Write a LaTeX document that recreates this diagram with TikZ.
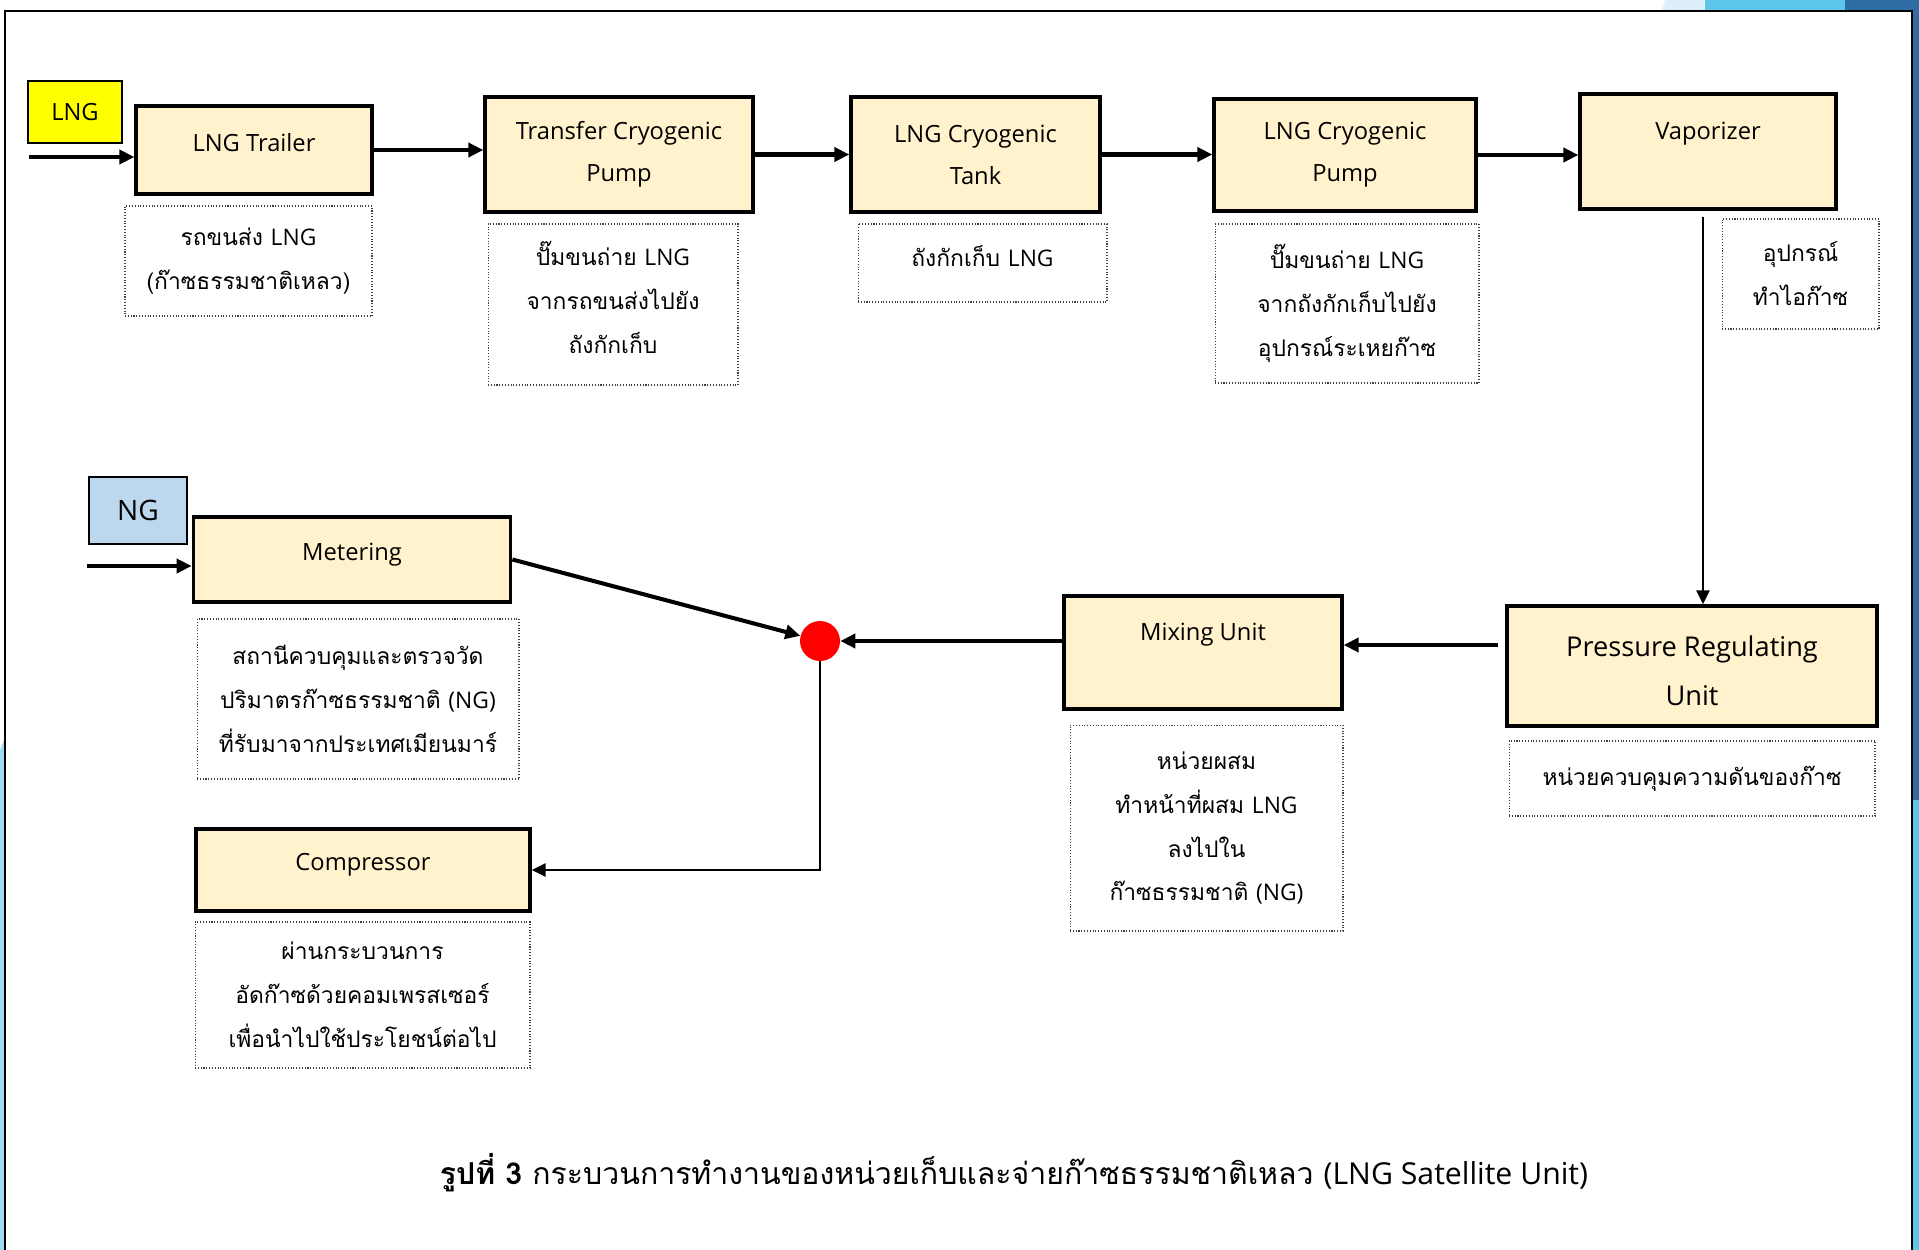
\documentclass[tikz,border=0pt]{standalone}
\usepackage{fontspec}
\setmainfont{Open Sans}
\newfontfamily\thai[Script=Thai]{Loma}
\newcommand\en[1]{{\rmfamily #1}}
\usetikzlibrary{arrows.meta}

\definecolor{unitfill}{HTML}{FFF2CC}
\definecolor{lngyellow}{HTML}{FFFF00}
\definecolor{ngblue}{HTML}{BDD7EE}
\definecolor{decolight}{HTML}{DDF0FA}
\definecolor{decomid}{HTML}{5BC5EA}
\definecolor{decodark}{HTML}{2E6DA4}

\tikzset{
	unit/.style={draw, line width=1.9pt, fill=unitfill, align=center, inner sep=0pt,
		font=\fontsize{13.5}{24}\selectfont},
	lift/.style={text depth=0.32cm},
	note/.style={draw=black!75, densely dotted, line width=0.6pt, align=center, inner sep=0pt,
		font=\thai\fontsize{13}{25}\selectfont},
	notelift/.style={text depth=0.28cm},
	tag/.style={draw, line width=1pt, inner sep=0pt},
	flow/.style={line width=2.3pt, -{Triangle[length=0.3cm,width=0.28cm]}},
	thinflow/.style={line width=1.6pt, -{Triangle[length=0.28cm,width=0.26cm]}}
}

\begin{document}
\begin{tikzpicture}[x=0.02cm,y=-0.02cm]
	\useasboundingbox (0,0) rectangle (1919,1250);

	% slide decoration
	\fill[decolight] (1665,0) -- (1705,0) -- (1705,11) -- (1662,11) -- cycle;
	\fill[decomid] (1705,0) -- (1845,0) -- (1845,11) -- (1705,11) -- cycle;
	\fill[decodark] (1845,0) rectangle (1919,11);
	\fill[decodark] (1913,0) rectangle (1919,800);
	\fill[decomid] (1913,800) rectangle (1919,1250);
	\fill[decomid!60] (0,750) -- (4,740) -- (4,1250) -- (0,1250) -- cycle;
	\draw[line width=1.1pt] (5,1250) -- (5,11) -- (1912,11) -- (1912,1250);

	% inputs
	\node[tag, fill=lngyellow, minimum width=1.88cm, minimum height=1.24cm,
		font=\fontsize{13.5}{16}\selectfont] (lng) at (75,112) {LNG};
	\node[tag, fill=ngblue, minimum width=1.96cm, minimum height=1.34cm,
		font=\fontsize{16}{18}\selectfont] (ng) at (138,510.5) {NG};
	\coordinate (lngin) at (29,157);
	\coordinate (ngin) at (87,566);
	\coordinate (prvout) at (1498,645);

	% units
	\node[unit, lift, minimum width=4.72cm, minimum height=1.76cm] (trailer) at (254,150) {LNG Trailer};
	\node[unit, minimum width=5.36cm, minimum height=2.3cm] (xpump) at (619,154.5) {Transfer Cryogenic\\Pump};
	\node[unit, minimum width=4.98cm, minimum height=2.3cm] (tank) at (975.5,154.5) {LNG Cryogenic\\Tank};
	\node[unit, minimum width=5.24cm, minimum height=2.24cm] (cpump) at (1345,155) {LNG Cryogenic\\Pump};
	\node[unit, minimum width=5.12cm, minimum height=2.3cm] (vapor) at (1708,151.5) {Vaporizer\\~};
	\node[unit, minimum width=7.4cm, minimum height=2.4cm, font=\fontsize{15.5}{28}\selectfont] (prv) at (1692,666) {\rule{0pt}{0.61cm}Pressure Regulating\\Unit};
	\node[unit, minimum width=5.56cm, minimum height=2.26cm] (mixer) at (1203,652.5) {Mixing Unit\\~};
	\node[unit, lift, minimum width=6.35cm, minimum height=1.7cm] (meter) at (352,559.5) {Metering};
	\node[unit, lift, minimum width=6.68cm, minimum height=1.64cm] (comp) at (363,870) {Compressor};
	\node[circle, fill=red, minimum size=0.8cm, inner sep=0pt] (dot) at (820,641) {};

	% notes
	\node[note, minimum width=4.94cm, minimum height=2.2cm] (n1) at (248.5,261) {รถขนส่ง \en{LNG}\\(ก๊าซธรรมชาติเหลว)};
	\node[note, notelift, minimum width=5cm, minimum height=3.22cm] (n2) at (613,304.5) {ปั๊มขนถ่าย \en{LNG}\\จากรถขนส่งไปยัง\\ถังกักเก็บ};
	\node[note, notelift, minimum width=4.98cm, minimum height=1.56cm] (n3) at (982.5,263) {ถังกักเก็บ \en{LNG}};
	\node[note, minimum width=5.28cm, minimum height=3.18cm] (n4) at (1347,303.5) {ปั๊มขนถ่าย \en{LNG}\\จากถังกักเก็บไปยัง\\อุปกรณ์ระเหยก๊าซ};
	\node[note, minimum width=3.14cm, minimum height=2.2cm] (n5) at (1800.5,274) {อุปกรณ์\\ทำไอก๊าซ};
	\node[note, minimum width=7.32cm, minimum height=1.5cm] (n6) at (1692,778.5) {หน่วยควบคุมความดันของก๊าซ};
	\node[note, minimum width=5.46cm, minimum height=4.12cm] (n7) at (1206.5,828) {หน่วยผสม\\ทำหน้าที่ผสม \en{LNG}\\ลงไปใน\\ก๊าซธรรมชาติ \en{(NG)}};
	\node[note, minimum width=6.44cm, minimum height=3.2cm] (n8) at (358,699) {สถานีควบคุมและตรวจวัด\\ปริมาตรก๊าซธรรมชาติ \en{(NG)}\\ที่รับมาจากประเทศเมียนมาร์};
	\node[note, minimum width=6.7cm, minimum height=2.92cm] (n9) at (362.5,995) {ผ่านกระบวนการ\\อัดก๊าซด้วยคอมเพรสเซอร์\\เพื่อนำไปใช้ประโยชน์ต่อไป};

	% flow
	\draw[flow] (lngin) -- (lngin -| trailer.west);
	\draw[flow] (trailer.east) -- (trailer.east -| xpump.west);
	\draw[flow] (xpump.east) -- (xpump.east -| tank.west);
	\draw[flow] (tank.east) -- (tank.east -| cpump.west);
	\draw[flow] (cpump.east) -- (cpump.east -| vapor.west);
	\draw[thinflow, shorten <=0.12cm] ([xshift=-0.1cm]vapor.south) -- ([xshift=-0.1cm]vapor.south |- prv.north);
	\draw[flow] (prvout) -- (prvout -| mixer.east);
	\draw[flow] (dot.east -| mixer.west) -- (dot.east);
	\draw[flow] (meter.east) -- (dot);
	\draw[flow] (ngin) -- (ngin -| meter.west);
	\draw[thinflow] (dot.south) |- (comp.east);

	% caption
	\node[font=\thai\fontsize{17.2}{20}\selectfont] (caption) at (1014,1173)
		{{\bfseries รูปที่ 3} กระบวนการทำงานของหน่วยเก็บและจ่ายก๊าซธรรมชาติเหลว \en{(LNG Satellite Unit)}};
\end{tikzpicture}
\end{document}
